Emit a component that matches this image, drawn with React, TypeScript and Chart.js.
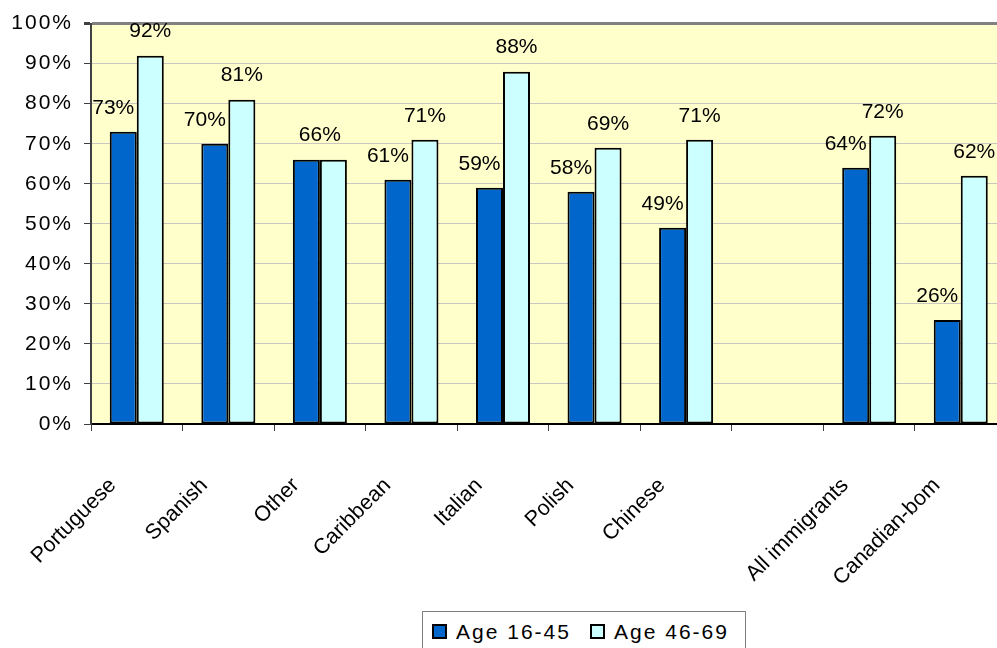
import React, { useEffect, useRef } from 'react';
import { Chart, registerables } from 'chart.js';

Chart.register(...registerables);

const categories = ['Portuguese', 'Spanish', 'Other', 'Caribbean', 'Italian', 'Polish', 'Chinese', '', 'All immigrants', 'Canadian-bom'];
const age16to45: (number | null)[] = [73, 70, 66, 61, 59, 58, 49, null, 64, 26];
const age46to69: (number | null)[] = [92, 81, 66, 71, 88, 69, 71, null, 72, 62];
const seriesNames = ['Age 16-45', 'Age 46-69'];
const seriesColors = ['#0066CC', '#CCFFFF'];
const yMin = 0;
const yMax = 100;
const yStep = 10;

const FONT = '"Liberation Sans", Arial, sans-serif';

export default function App() {
  const canvasRef = useRef<HTMLCanvasElement | null>(null);

  useEffect(() => {
    const canvas = canvasRef.current;
    if (!canvas) return;

    const plotBg = {
      id: 'plotBg',
      beforeDraw(chart: any) {
        const { ctx, chartArea } = chart;
        ctx.save();
        ctx.fillStyle = '#FFFFCC';
        ctx.fillRect(chartArea.left, chartArea.top, chartArea.right - chartArea.left, chartArea.bottom - chartArea.top);
        ctx.restore();
      },
    };

    const valueLabels = {
      id: 'valueLabels',
      afterDatasetsDraw(chart: any) {
        const ctx = chart.ctx;
        const m0 = chart.getDatasetMeta(0);
        const m1 = chart.getDatasetMeta(1);
        ctx.save();
        (ctx as any).letterSpacing = '0px';
        ctx.font = `21px ${FONT}`;
        ctx.fillStyle = '#000';
        ctx.textAlign = 'center';
        ctx.textBaseline = 'middle';
        for (let i = 0; i < categories.length; i++) {
          const v0 = age16to45[i];
          const v1 = age46to69[i];
          const b0 = m0.data[i];
          const b1 = m1.data[i];
          if (v0 != null && v1 != null && v0 === v1) {
            ctx.fillText(`${v0}%`, (b0.x + b1.x) / 2, Math.min(b0.y, b1.y) - 25);
            continue;
          }
          if (v0 != null) ctx.fillText(`${v0}%`, b0.x - 10, b0.y - 24);
          if (v1 != null) ctx.fillText(`${v1}%`, b1.x, b1.y - 24);
        }
        ctx.restore();
        (ctx as any).letterSpacing = '2px';
      },
      afterDraw(chart: any) {
        (chart.ctx as any).letterSpacing = '0px';
      },
    };

    const chart = new Chart(canvas, {
      type: 'bar',
      data: {
        labels: categories,
        datasets: [
          {
            label: seriesNames[0],
            data: age16to45,
            backgroundColor: seriesColors[0],
            borderColor: '#000',
            borderWidth: 2,
            borderSkipped: false,
            barPercentage: 1,
            categoryPercentage: 0.59,
          },
          {
            label: seriesNames[1],
            data: age46to69,
            backgroundColor: seriesColors[1],
            borderColor: '#000',
            borderWidth: 2,
            borderSkipped: false,
            barPercentage: 1,
            categoryPercentage: 0.59,
          },
        ],
      },
      options: {
        responsive: false,
        animation: false,
        layout: { padding: { top: 17, left: 0, right: 0, bottom: 0 } },
        plugins: {
          legend: { display: false },
          tooltip: { enabled: false },
          title: { display: false },
        },
        scales: {
          x: {
            grid: {
              display: true,
              drawOnChartArea: false,
              drawTicks: true,
              tickLength: 7,
              offset: true,
              color: '#404040',
            },
            border: { color: '#000', width: 2 },
            ticks: {
              autoSkip: false,
              minRotation: 45,
              maxRotation: 45,
              padding: 42,
              labelOffset: -24,
              color: '#000',
              font: { family: FONT, size: 21.5 },
            },
            afterFit(scale: any) {
              scale.height = 224;
            },
          },
          y: {
            min: yMin,
            max: yMax,
            ticks: {
              stepSize: yStep,
              callback: (v: any) => `${v}%`,
              color: '#000',
              padding: 11,
              z: 1,
              font: { family: FONT, size: 21 },
            },
            grid: {
              color: (c: any) => (c.tick && c.tick.value === yMax ? '#808080' : '#C8C8C0'),
              lineWidth: (c: any) => (c.tick && c.tick.value === yMax ? 3 : 1),
              tickColor: '#404040',
              tickLength: 7,
            },
            border: { color: '#404040', width: 2 },
            afterFit(scale: any) {
              scale.width = 91;
            },
          },
        },
      },
      plugins: [plotBg, valueLabels],
    });

    return () => chart.destroy();
  }, []);

  const legendItem = (i: number, left: number) => (
    <React.Fragment key={i}>
      <div
        style={{
          position: 'absolute',
          left,
          top: 12,
          width: 15,
          height: 15,
          boxSizing: 'border-box',
          border: '2px solid #000',
          background: seriesColors[i],
        }}
      />
      <div style={{ position: 'absolute', left: left + 24, top: 9, whiteSpace: 'nowrap' }}>{seriesNames[i]}</div>
    </React.Fragment>
  );

  return (
    <div style={{ position: 'absolute', left: 0, top: 0, width: 997, height: 648, overflow: 'hidden', background: '#fff' }}>
      <canvas ref={canvasRef} width={1021} height={648} style={{ display: 'block' }} />
      <div
        style={{
          position: 'absolute',
          left: 422,
          top: 611,
          width: 324,
          height: 60,
          boxSizing: 'border-box',
          border: '1px solid #808080',
          background: '#fff',
          fontFamily: FONT,
          fontSize: 21,
          lineHeight: '21px',
          letterSpacing: '2px',
          color: '#000',
        }}
      >
        {legendItem(0, 9)}
        {legendItem(1, 167)}
      </div>
    </div>
  );
}
